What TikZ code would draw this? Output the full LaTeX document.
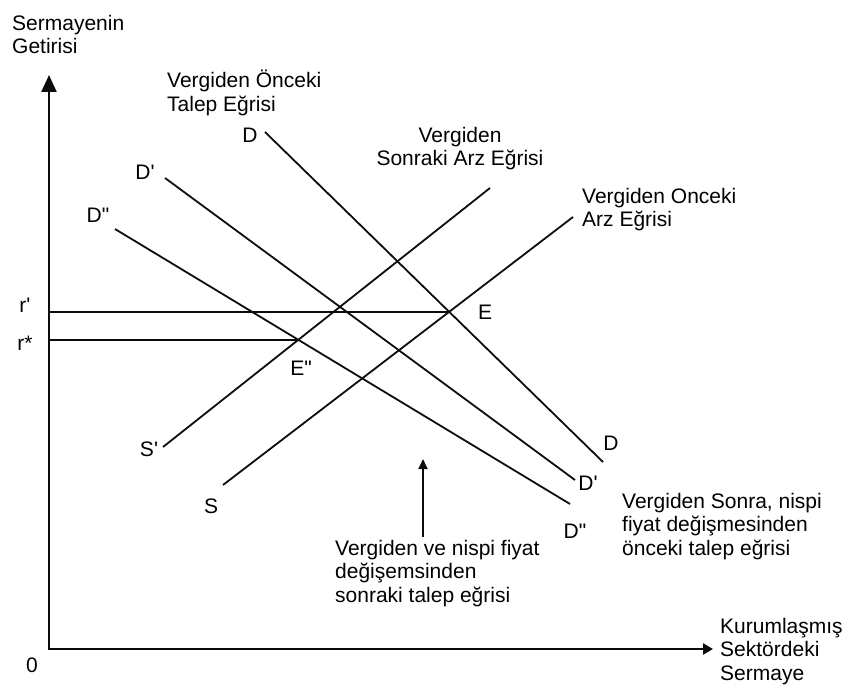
\documentclass[tikz,border=0pt]{standalone}
\usepackage{fontspec}
\setmainfont{Liberation Sans}[Ligatures=TeXOff]
\usetikzlibrary{arrows.meta,positioning}
\definecolor{InkBlack}{RGB}{12,12,12}

\begin{document}
\begin{tikzpicture}[x=1pt,y=-1pt,
    curve/.style={line width=1.8pt,InkBlack},
    axis/.style={line width=2.4pt,InkBlack},
    lbl/.style={inner sep=0pt,font=\fontsize{21}{23.5}\selectfont},
    note/.style={lbl,align=left,anchor=north west}]
  \useasboundingbox (0,0) rectangle (850,687);
  % axes
  \coordinate (O) at (49,649);
  \coordinate (yTop) at (49,75);
  \coordinate (xEnd) at (713,649);
  \draw[axis,{Triangle[length=17pt,width=15pt]}-{Triangle[length=10pt,width=11pt]}] (yTop) -- (O) -- (xEnd);
  % demand and supply curves
  \coordinate (Da) at (265,132);  \coordinate (Db) at (603,462);
  \coordinate (D1a) at (165,178); \coordinate (D1b) at (575,480);
  \coordinate (D2a) at (115,229); \coordinate (D2b) at (570,504);
  \coordinate (Sa) at (223,485);  \coordinate (Sb) at (573,217);
  \coordinate (S1a) at (163,447); \coordinate (S1b) at (490,188);
  \foreach \a/\b in {Da/Db,D1a/D1b,D2a/D2b,Sa/Sb,S1a/S1b}
    \draw[curve] (\a) -- (\b);
  % equilibria
  \coordinate (E) at (intersection of Da--Db and Sa--Sb);
  \coordinate (E2) at (intersection of D2a--D2b and S1a--S1b);
  \draw[curve] (E -| O) -- (E);
  \draw[curve] (E2 -| O) -- (E2);
  % labels
  \node[lbl] (labDa) at (250,135) {D};
  \node[lbl] (labD1a) at (145,172) {D'};
  \node[lbl] (labD2a) at (98,215) {D"};
  \node[lbl] (labDb) at (611,443) {D};
  \node[lbl] (labD1b) at (588,483) {D'};
  \node[lbl] (labD2b) at (575,531) {D"};
  \node[lbl] (labS1) at (149,449) {S'};
  \node[lbl] (labS) at (211,506) {S};
  \node[lbl] (labE) at (485,312) {E};
  \node[lbl] (labE2) at (301,368) {E"};
  \node[lbl] (labRp) at (25,305) {r'};
  \node[lbl] (labRs) at (25,343) {r*};
  \node[lbl] (labO) at (32,665) {0};
  % texts
  \node[note] (yTitle) at (12,15) {Sermayenin\\Getirisi};
  \node[note] (xTitle) at (720,618) {Kurumlaşmış\\Sektördeki\\Sermaye};
  \node[note] (demBefore) at (167,70) {Vergiden Önceki\\Talep Eğrisi};
  \node[lbl,align=center,anchor=north] (supAfter) at (460,127) {Vergiden\\Sonraki Arz Eğrisi};
  \node[note] (supBefore) at (582,188) {Vergiden Onceki\\Arz Eğrisi};
  \node[note] (demMid) at (622,493) {Vergiden Sonra, nispi\\fiyat değişmesinden\\önceki talep eğrisi};
  \node[note] (demAfter) at (335,540) {Vergiden ve nispi fiyat\\değişemsinden\\sonraki talep eğrisi};
  \coordinate (arrTail) at (423,537);
  \coordinate (arrTip) at (423,459);
  \draw[curve,-{Triangle[length=10pt,width=9pt]}] (arrTail) -- (arrTip);
\end{tikzpicture}
\end{document}
